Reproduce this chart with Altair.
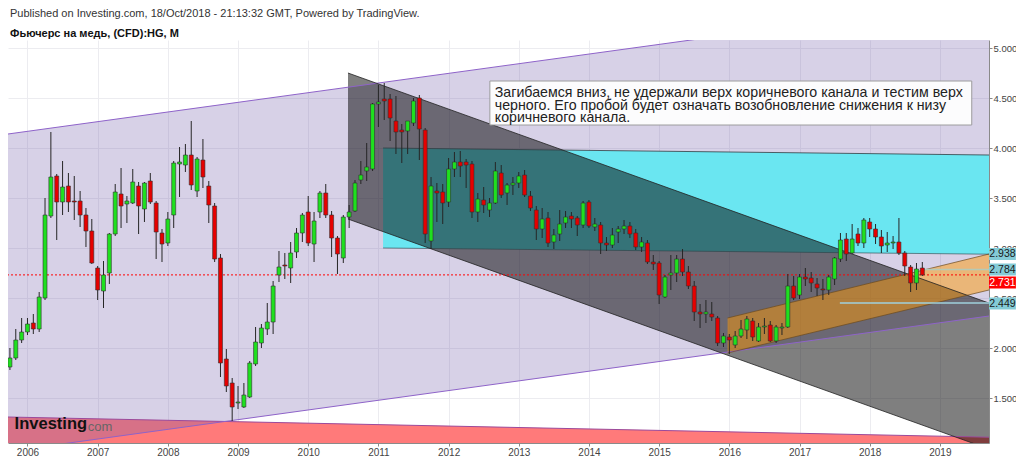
import altair as alt
import pandas as pd

FONT = "Liberation Sans"

# ---- Monthly OHLC, Oct 2005 .. Oct 2018 (month index: Jan 2006 = 0) ----
opens = [1.81, 1.90, 2.08,
         2.16, 2.25, 2.19, 2.50, 3.32, 3.72, 3.46, 3.62, 3.47, 3.47, 3.33, 3.17,
         2.80, 2.57, 2.75, 3.14, 3.54, 3.44, 3.45, 3.62, 3.39, 3.67, 3.45, 3.15,
         3.05, 3.33, 3.84, 3.83, 3.93, 3.57, 3.88, 3.62, 3.42, 2.90, 1.89, 1.65,
         1.45, 1.41, 1.51, 1.84, 2.05, 2.19, 2.26, 2.73, 2.83, 2.80, 2.96, 3.15,
         3.36, 3.04, 3.36, 3.55, 3.33, 3.10, 2.90, 3.31, 3.37, 3.68, 3.77, 3.79,
         4.44, 4.49, 4.49, 4.27, 4.18, 4.17, 4.25, 4.50, 4.18, 3.07, 3.57, 3.56,
         3.46, 3.79, 3.86, 3.86, 3.84, 3.36, 3.48, 3.38, 3.45, 3.75, 3.55, 3.63,
         3.65, 3.73, 3.52, 3.38, 3.19, 3.30, 3.06, 3.14, 3.25, 3.32, 3.30, 3.23,
         3.46, 3.21, 3.23, 3.05, 3.03, 3.16, 3.19, 3.22, 3.15, 3.01, 3.05, 2.86,
         2.85, 2.51, 2.73, 2.75, 2.89, 2.76, 2.62, 2.36, 2.34, 2.34, 2.30, 2.05,
         2.11, 2.03, 2.12, 2.18, 2.27, 2.07, 2.21, 2.23, 2.07, 2.20, 2.21, 2.62,
         2.53, 2.71, 2.70, 2.64, 2.59, 2.58, 2.69, 2.89, 3.09, 2.95, 3.14, 3.05,
         3.26, 3.19, 3.11, 3.03, 3.05, 3.06, 2.95, 2.81, 2.65, 2.80]
highs = [2.00, 2.19, 2.30,
         2.30, 2.34, 2.56, 3.50, 4.16, 3.74, 3.87, 3.75, 3.72, 3.57, 3.40, 3.29,
         2.82, 2.87, 3.15, 3.64, 3.80, 3.52, 3.79, 3.66, 3.66, 3.75, 3.47, 3.19,
         3.36, 3.87, 4.01, 4.04, 4.27, 3.91, 4.09, 3.67, 3.45, 2.94, 1.99, 1.70,
         1.62, 1.65, 1.87, 2.21, 2.24, 2.45, 2.67, 2.97, 2.95, 3.06, 3.20, 3.35,
         3.52, 3.36, 3.57, 3.64, 3.37, 3.12, 3.33, 3.43, 3.68, 3.87, 4.05, 4.45,
         4.63, 4.65, 4.54, 4.52, 4.24, 4.27, 4.50, 4.53, 4.20, 3.71, 3.65, 3.64,
         3.90, 3.96, 3.97, 3.89, 3.87, 3.55, 3.61, 3.50, 3.86, 3.83, 3.65, 3.71,
         3.76, 3.78, 3.57, 3.42, 3.40, 3.36, 3.19, 3.38, 3.37, 3.36, 3.32, 3.47,
         3.48, 3.30, 3.26, 3.11, 3.20, 3.22, 3.28, 3.26, 3.19, 3.11, 3.08, 2.93,
         2.87, 2.73, 2.93, 2.93, 2.99, 2.82, 2.67, 2.44, 2.48, 2.46, 2.32, 2.15,
         2.14, 2.17, 2.28, 2.32, 2.30, 2.25, 2.30, 2.27, 2.23, 2.25, 2.74, 2.72,
         2.74, 2.80, 2.76, 2.70, 2.69, 2.73, 2.91, 3.15, 3.15, 3.24, 3.20, 3.30,
         3.30, 3.24, 3.18, 3.16, 3.12, 3.30, 2.97, 2.83, 2.85, 2.86]
lows = [1.78, 1.88, 2.05,
        2.13, 2.14, 2.16, 2.48, 3.30, 3.08, 3.33, 3.36, 3.28, 3.21, 3.01, 2.84,
        2.48, 2.40, 2.64, 3.12, 3.20, 3.25, 3.44, 3.14, 3.26, 3.44, 2.89, 2.86,
        3.02, 3.20, 3.51, 3.76, 3.58, 3.51, 3.60, 3.25, 2.86, 1.71, 1.56, 1.27,
        1.39, 1.40, 1.50, 1.82, 2.00, 2.13, 2.14, 2.66, 2.69, 2.65, 2.90, 3.06,
        3.02, 2.86, 3.30, 3.30, 2.91, 2.74, 2.85, 3.20, 3.36, 3.64, 3.67, 3.77,
        4.21, 4.28, 4.07, 3.94, 3.85, 3.94, 4.22, 3.88, 3.05, 2.99, 3.26, 3.24,
        3.41, 3.71, 3.71, 3.60, 3.30, 3.26, 3.35, 3.31, 3.44, 3.50, 3.43, 3.53,
        3.60, 3.51, 3.37, 3.08, 3.10, 3.01, 2.99, 3.07, 3.20, 3.20, 3.12, 3.20,
        3.20, 3.17, 2.94, 2.97, 3.00, 3.05, 3.14, 3.10, 2.98, 2.96, 2.84, 2.78,
        2.44, 2.50, 2.58, 2.66, 2.72, 2.59, 2.27, 2.20, 2.25, 2.27, 2.02, 2.01,
        1.94, 2.00, 2.10, 2.09, 2.07, 2.06, 2.14, 2.06, 2.05, 2.13, 2.20, 2.48,
        2.49, 2.62, 2.56, 2.52, 2.48, 2.53, 2.63, 2.86, 2.87, 2.94, 3.02, 3.00,
        3.11, 3.04, 2.95, 2.96, 2.99, 2.93, 2.72, 2.56, 2.58, 2.72]
closes = [1.90, 2.08, 2.16,
          2.24, 2.19, 2.51, 3.33, 3.71, 3.46, 3.61, 3.46, 3.46, 3.33, 3.17, 2.85,
          2.58, 2.73, 3.14, 3.56, 3.42, 3.47, 3.66, 3.42, 3.65, 3.46, 3.16, 3.04,
          3.29, 3.85, 3.86, 3.93, 3.63, 3.89, 3.71, 3.43, 2.89, 1.85, 1.62, 1.41,
          1.46, 1.53, 1.85, 2.06, 2.20, 2.26, 2.62, 2.81, 2.82, 2.95, 3.15, 3.33,
          3.05, 3.27, 3.55, 3.33, 3.10, 2.94, 3.31, 3.36, 3.65, 3.73, 3.81, 4.44,
          4.46, 4.47, 4.30, 4.16, 4.16, 4.27, 4.47, 4.19, 3.14, 3.62, 3.55, 3.45,
          3.79, 3.86, 3.82, 3.83, 3.36, 3.49, 3.43, 3.45, 3.77, 3.53, 3.63, 3.65,
          3.72, 3.53, 3.40, 3.19, 3.29, 3.05, 3.13, 3.24, 3.31, 3.29, 3.23, 3.45,
          3.22, 3.24, 3.05, 3.03, 3.13, 3.19, 3.22, 3.14, 3.01, 3.06, 2.86, 2.84,
          2.53, 2.71, 2.75, 2.89, 2.76, 2.62, 2.36, 2.34, 2.36, 2.31, 2.05, 2.12,
          2.08, 2.12, 2.19, 2.29, 2.11, 2.21, 2.22, 2.07, 2.21, 2.21, 2.62, 2.50,
          2.71, 2.69, 2.65, 2.60, 2.58, 2.71, 2.90, 3.08, 2.94, 3.09, 3.05, 3.28,
          3.19, 3.11, 3.02, 3.05, 3.06, 2.95, 2.82, 2.65, 2.79, 2.73]
month_index = list(range(-3, -3 + len(opens)))

# ---- axes ----
X0, X1 = -3.33, 164.4
Y0, Y1 = 1.05, 5.08
year_ticks = [12 * k for k in range(14)]          # 2006 .. 2019
price_ticks = [1.5, 2.0, 2.5, 3.0, 3.5, 4.0, 4.5, 5.0]
last_price = 2.731

# ---- drawings (month index, price) ----
purple_x, purple_lo, purple_hi = [X0, X1], [0.966, 2.32], [4.14, 5.49]
red_x, red_top, red_bot = [X0, X1], [1.31, 1.108], [0.9, 0.9]
cyan_x, cyan_top, cyan_bot = [60.8, X1], [4.00, 3.93], [3.00, 2.938]
dark_x, dark_top, dark_bot = [54.8, X1], [4.75, 2.449], [3.29, 0.99]
orange_x, orange_top, orange_bot = [119.7, X1], [2.30, 2.94], [1.95, 2.58]

note_lines = ["Загибаемся вниз, не удержали верх коричневого канала и тестим верх",
              "черного. Его пробой будет означать возобновление снижения к низу",
              "коричневого канала."]
note_baselines = [4.515, 4.385, 4.258]
note_box = dict(x=79.06, x2=161.45, y=4.23, y2=4.67)

level_texts = ["2.938", "2.784", "2.731", "2.449"]
level_pos = [2.94, 2.785, 2.655, 2.445]           # label box centres (stacked like the original)
level_fill = ["#84cbd6", "#84cbd6", "#ff0000", "#84cbd6"]
level_textcol = ["#1a1a1a", "#1a1a1a", "#ffffff", "#1a1a1a"]

xs = alt.Scale(domain=[X0, X1], nice=False, zero=False, padding=0)
ys = alt.Scale(domain=[Y0, Y1], nice=False, zero=False, padding=0)
x_axis = alt.Axis(values=year_ticks, labelExpr="'' + (2006 + datum.value / 12)",
                  title=None, grid=True, orient="bottom")
y_axis = alt.Axis(values=price_ticks, format=".3f", title=None, grid=True, orient="right")


def X(field="x"):
    return alt.X(field, type="quantitative", scale=xs, axis=x_axis)


def Y(field):
    return alt.Y(field, type="quantitative", scale=ys, axis=y_axis)


def band(xv, lo, hi, color, opacity):
    df = pd.DataFrame({"x": xv, "lo": lo, "hi": hi})
    return alt.Chart(df).mark_area(color=color, opacity=opacity, clip=True).encode(
        x=X(), y=Y("lo"), y2="hi")


def edge(xv, yv, color, width=1.0, opacity=1.0):
    df = pd.DataFrame({"x": xv, "y": yv})
    return alt.Chart(df).mark_line(color=color, strokeWidth=width, opacity=opacity,
                                   clip=True).encode(x=X(), y=Y("y"))


layers = []
layers.append(band(red_x, red_bot, red_top, "#ff7a7a", 1.0))
layers.append(band(purple_x, purple_lo, purple_hi, "#6f5aa8", 0.28))
layers.append(band(cyan_x, cyan_bot, cyan_top, "#6ae6f1", 1.0))
layers.append(band(dark_x, dark_bot, dark_top, "#000000", 0.5))
layers.append(band(orange_x, orange_bot, orange_top, "#ff9800", 0.48))

layers.append(edge(red_x, red_top, "#9b4a9b"))
layers.append(edge(purple_x, purple_lo, "#8e63c9"))
layers.append(edge(purple_x, purple_hi, "#8e63c9"))
layers.append(edge(cyan_x, cyan_top, "#2f3f44", 1, 0.8))
layers.append(edge(cyan_x, cyan_bot, "#2f3f44", 1, 0.6))
layers.append(edge(dark_x, dark_top, "#222222", 1, 0.8))
layers.append(edge(dark_x, dark_bot, "#222222", 1, 0.8))
layers.append(edge(orange_x, orange_top, "#6b4a1f", 1, 0.7))
layers.append(edge(orange_x, orange_bot, "#6b4a1f", 1, 0.7))

# light horizontal level lines
lv = pd.DataFrame({"x": [153.4, 138.9], "x2": [X1, X1], "y": [2.784, 2.449],
                   "c": ["#b4c9b6", "#9fd0dc"]})
layers.append(alt.Chart(lv).mark_rule(strokeWidth=1.5, clip=True).encode(
    x=X(), x2="x2", y=Y("y"), color=alt.Color("c:N", scale=None)))

# red dotted last price line
lp = pd.DataFrame({"y": [last_price]})
layers.append(alt.Chart(lp).mark_rule(color="#ff0000", strokeDash=[2, 2], strokeWidth=1).encode(
    y=Y("y")))

# candles
candles = pd.DataFrame({"i": month_index, "open": opens, "high": highs,
                        "low": lows, "close": closes})
layers.append(alt.Chart(candles).mark_rule(color="#262626", strokeWidth=1).encode(
    x=X("i"), y=Y("low"), y2="high"))
layers.append(alt.Chart(candles).mark_bar(size=4, stroke="#303030", strokeWidth=0.6,
                                          orient="vertical").encode(
    x=X("i"), y=Y("open"), y2="close",
    color=alt.condition("datum.close >= datum.open", alt.value("#1fe01f"), alt.value("#e60000"))))

# note box and text
nb = pd.DataFrame([note_box])
layers.append(alt.Chart(nb).mark_rect(fill="#ffffff", opacity=0.95, stroke="#9a9a9a",
                                      strokeWidth=1).encode(x=X(), x2="x2", y=Y("y"), y2="y2"))
nt = pd.DataFrame({"x": [79.9] * 3, "y": note_baselines, "t": note_lines})
layers.append(alt.Chart(nt).mark_text(align="left", baseline="alphabetic", font=FONT,
                                      fontSize=14.2, color="#222222").encode(
    x=X(), y=Y("y"), text="t:N"))

# price labels on the right axis
lb = pd.DataFrame({"x": [X1] * 4, "x2": [169.0] * 4, "xc": [166.7] * 4,
                   "lo": [p - 0.06 for p in level_pos], "hi": [p + 0.06 for p in level_pos],
                   "y": level_pos, "t": level_texts, "f": level_fill, "tc": level_textcol})
layers.append(alt.Chart(lb).mark_rect(clip=False).encode(
    x=X(), x2="x2", y=Y("lo"), y2="hi", fill=alt.Fill("f:N", scale=None)))
layers.append(alt.Chart(lb).mark_text(align="center", baseline="middle", font=FONT,
                                      fontSize=10.5, clip=False).encode(
    x=X("xc"), y=Y("y"), text="t:N", color=alt.Color("tc:N", scale=None)))

# watermark
wm = pd.DataFrame({"x": [-2.2, 10.3], "y": [1.19, 1.175], "t": ["Investing", "com"]})
layers.append(alt.Chart(wm.iloc[[0]]).mark_text(align="left", baseline="alphabetic",
                                                font=FONT, fontSize=16.5, fontWeight="bold",
                                                color="#111111").encode(
    x=X(), y=Y("y"), text="t:N"))
layers.append(alt.Chart(wm.iloc[[1]]).mark_text(align="left", baseline="alphabetic",
                                                font=FONT, fontSize=13, color="#666666").encode(
    x=X(), y=Y("y"), text="t:N"))

chart = alt.layer(*layers).properties(
    width=981, height=403,
    autosize=alt.AutoSizeParams(type="none"),
    padding={"left": 0, "top": 32, "right": 27, "bottom": 17},
    title=alt.TitleParams(
        text="Published on Investing.com, 18/Oct/2018 - 21:13:32 GMT, Powered by TradingView.",
        subtitle="Фьючерс на медь, (CFD):HG, M",
        anchor="start", frame="group", font=FONT, fontSize=11, fontWeight="normal",
        color="#333333", subtitleFont=FONT, subtitleFontSize=11, subtitleFontWeight="bold",
        subtitleColor="#111111", offset=1, subtitlePadding=9, dx=2),
).configure_view(stroke=None).configure_axis(
    gridColor="#ececf0", gridWidth=1, domainColor="#8a8a8a", tickColor="#8a8a8a",
    labelFont=FONT, labelFontSize=10, labelColor="#444444",
).configure_axisY(tickSize=3, labelPadding=1, labelFontSize=9.5
).configure_axisX(labelPadding=1, tickSize=3)

chart.save("out.html", embed_options={"renderer": "svg", "actions": False})
